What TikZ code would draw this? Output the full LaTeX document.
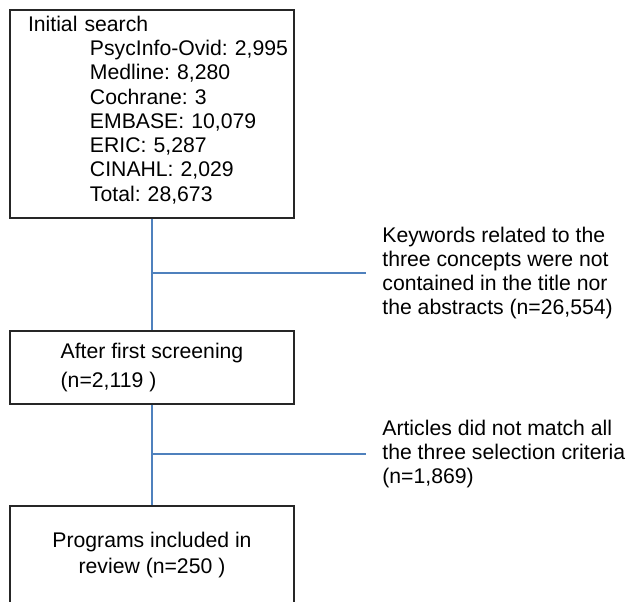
\documentclass[tikz,border=0pt]{standalone}
\usepackage{fontspec}
\setmainfont{Liberation Sans}
\frenchspacing
\definecolor{linkblue}{HTML}{4F81BD}
\tikzset{
  stagebox/.style={draw=black!85, line width=0.6pt, minimum width=142pt, inner sep=0pt},
  link/.style={draw=linkblue, line width=0.8pt},
  note/.style={anchor=west, align=left, inner xsep=8pt, inner ysep=0pt},
}
\begin{document}
\begin{tikzpicture}[x=0.5pt, y=-0.5pt, every node/.style={font=\fontsize{10.6}{12.15}\selectfont}]
  \useasboundingbox (0,0) rectangle (627,601);
  % the three stages
  \node[stagebox, minimum height=104pt, text width=124pt, text depth=90.5pt, inner xsep=9pt, align=left] (search) at (152,114)
    {Initial search\\
     \hspace*{31pt}\mbox{PsycInfo-Ovid: 2,995}\\
     \hspace*{31pt}Medline: 8,280\\
     \hspace*{31pt}Cochrane: 3\\
     \hspace*{31pt}EMBASE: 10,079\\
     \hspace*{31pt}ERIC: 5,287\\
     \hspace*{31pt}CINAHL: 2,029\\
     \hspace*{31pt}Total: 28,673};
  \node[stagebox, minimum height=36.5pt, align=left] (screen) at (152,367.5)
    {After first screening\\[2.2pt] (n=2,119 )};
  \node[stagebox, minimum height=49pt, align=center] (review) at (152,555)
    {Programs included in\\[0.8pt] review (n=250 )};
  % excluded records
  \node[note] (drop1) at (366,273)
    {Keywords related to the\\ three concepts were not\\ contained in the title nor\\ the abstracts (n=26,554)};
  \node[note] (drop2) at (366,454)
    {Articles did not match all\\ the three selection criteria\\ (n=1,869)};
  \draw[link] (search) -- (screen);
  \draw[link] (screen) -- (review);
  \draw[link] (search.south |- drop1.west) -- (drop1.west);
  \draw[link] (screen.south |- drop2.west) -- (drop2.west);
\end{tikzpicture}
\end{document}
